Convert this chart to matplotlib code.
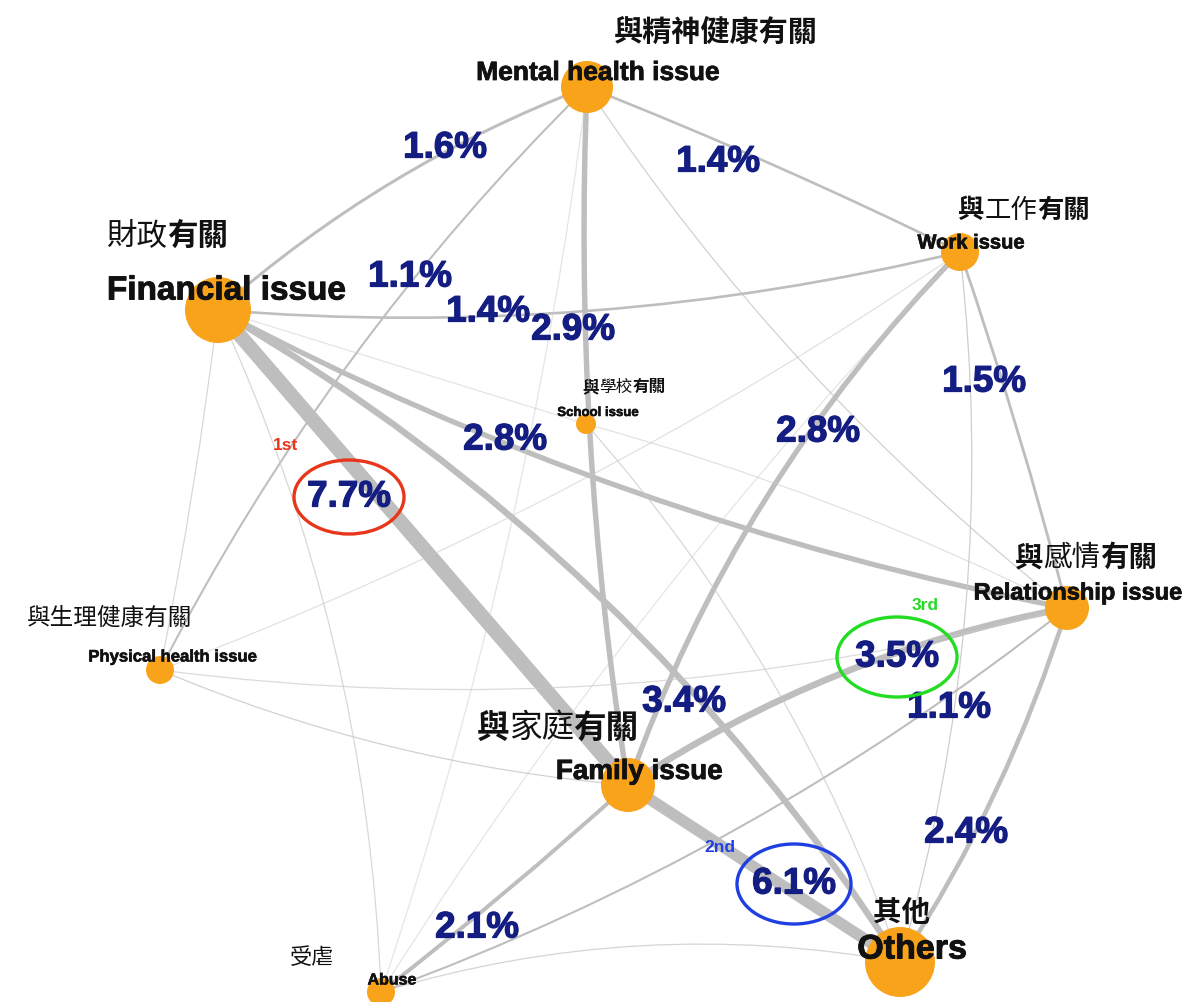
import numpy as np
import matplotlib
matplotlib.use("Agg")
import matplotlib.pyplot as plt
import matplotlib.patheffects as pe
from matplotlib.patches import Circle, Ellipse, PathPatch
from matplotlib.path import Path

# ---------------- data ----------------
nodes = ["Mental health issue", "Work issue", "Financial issue", "School issue",
         "Relationship issue", "Physical health issue", "Family issue", "Abuse", "Others"]
node_size = [26, 19, 33, 10, 22, 14, 27, 14, 35]          # relative node weight (radius px)

# edges: source, target, co-occurrence percentage
edge_src = ["Financial issue", "Mental health issue", "Mental health issue", "Mental health issue",
            "Mental health issue", "Financial issue", "Financial issue", "Financial issue",
            "Financial issue", "Work issue", "Work issue", "Work issue",
            "Relationship issue", "Relationship issue", "Family issue", "Family issue",
            "Financial issue", "Financial issue", "Physical health issue", "Physical health issue",
            "Physical health issue", "Abuse", "Abuse", "School issue",
            "School issue", "Financial issue", "Mental health issue", "Work issue"]
edge_dst = ["Mental health issue", "Work issue", "Family issue", "Physical health issue",
            "Relationship issue", "Work issue", "Relationship issue", "Family issue",
            "Others", "Family issue", "Relationship issue", "Others",
            "Family issue", "Others", "Others", "Abuse",
            "Physical health issue", "Abuse", "Family issue", "Relationship issue",
            "Work issue", "Others", "Relationship issue", "Others",
            "Relationship issue", "School issue", "Abuse", "Abuse"]
edge_pct = [1.6, 1.4, 2.9, 1.1,
            0.8, 1.4, 2.8, 7.7,
            3.4, 2.8, 1.5, 0.9,
            3.5, 2.4, 6.1, 2.1,
            0.6, 0.6, 0.8, 0.5,
            0.3, 0.7, 1.1, 0.6,
            0.3, 0.2, 0.2, 0.2]

cn_labels = {
    "Mental health issue": [("與精神健康有關", "bold")],
    "Work issue": [("與", "bold"), ("工作", "light"), ("有關", "bold")],
    "Financial issue": [("財政", "light"), ("有關", "bold")],
    "School issue": [("與", "bold"), ("學校", "light"), ("有關", "bold")],
    "Relationship issue": [("與", "bold"), ("感情", "light"), ("有關", "bold")],
    "Physical health issue": [("與生理健康有關", "normal")],
    "Family issue": [("與", "bold"), ("家庭", "light"), ("有關", "bold")],
    "Abuse": [("受虐", "light")],
    "Others": [("其他", "bold")],
}
rank_names = ["1st", "2nd", "3rd"]

# ---------------- layout / style ----------------
node_xy = {
    "Mental health issue": (587, 87), "Work issue": (960, 252), "Financial issue": (218, 310),
    "School issue": (586, 424), "Relationship issue": (1067, 608),
    "Physical health issue": (160, 670), "Family issue": (628, 785),
    "Abuse": (381, 992), "Others": (900, 962),
}
edge_curv = [0.09, 0.02, -0.05, -0.08,
             -0.08, -0.08, -0.075, 0.0,
             0.12, -0.11, 0.02, 0.1,
             -0.1, 0.07, 0.0, 0.02,
             0.02, 0.1, -0.08, -0.1,
             -0.06, 0.12, -0.08, 0.1,
             0.05, 0.0, 0.05, -0.05]
label_xy = [(445, 148), (718, 162), (573, 330), (410, 277),
            None, (488, 312), (505, 440), (349, 497),
            (684, 702), (818, 432), (984, 382), None,
            (897, 657), (966, 833), (794, 884), (477, 928),
            None, None, None, None,
            None, None, (949, 708), None,
            None, None, None, None]
en_style = {  # centre, fontsize
    "Mental health issue": ((598, 73), 19), "Work issue": ((971, 243), 14.5),
    "Financial issue": ((227, 291), 24), "School issue": ((598, 413), 9.5),
    "Relationship issue": ((1078, 593), 17), "Physical health issue": ((172, 657), 12),
    "Family issue": ((639, 772), 20), "Abuse": ((392, 980), 11.5),
    "Others": ((912, 950), 24.5),
}
cn_style = {
    "Mental health issue": ((716, 32), 21), "Work issue": ((1024, 210), 19),
    "Financial issue": ((167, 237), 22), "School issue": ((624, 387), 12),
    "Relationship issue": ((1086, 558), 20.5), "Physical health issue": ((110, 618), 17),
    "Family issue": ((558, 728), 23.5), "Abuse": ((312, 958), 16),
    "Others": ((901, 913), 20.5),
}
rank_color = ["#e8361c", "#1f3fe0", "#22dd22"]
rank_ell = [(110, 74), (114, 80), (120, 80)]
rank_txt_off = [(-63, -51), (-74, -37), (28, -52)]

W, H = 1185, 1002
NODE_C = "#F9A31A"
EDGE_C = "#bebebe"
NAVY = "#131d82"
LATIN = ["Liberation Sans", "DejaVu Sans"]
CJK = ["Noto Sans CJK TC", "DejaVu Sans"]


def thick(color, w):
    return [pe.withStroke(linewidth=w, foreground=color)]


fig = plt.figure(figsize=(W / 100, H / 100), dpi=100)
ax = fig.add_axes([0, 0, 1, 1])
ax.set_xlim(0, W)
ax.set_ylim(H, 0)
ax.axis("off")

# edges
for s, d, p, k in zip(edge_src, edge_dst, edge_pct, edge_curv):
    p0 = np.array(node_xy[s], float)
    p1 = np.array(node_xy[d], float)
    dv = p1 - p0
    L = np.hypot(*dv)
    n = np.array([dv[1], -dv[0]]) / L
    c = (p0 + p1) / 2 + k * L * n
    path = Path([p0, c, p1], [Path.MOVETO, Path.CURVE3, Path.CURVE3])
    if p >= 1.0:
        lw, col, a = 1.35 * p, EDGE_C, 1.0
    else:
        lw, col, a = 0.9, "#c8c8c8", 0.35 + 0.6 * p
    ax.add_patch(PathPatch(path, fill=False, lw=lw, edgecolor=col, alpha=a,
                           capstyle="butt", zorder=1))

# nodes
for name, r in zip(nodes, node_size):
    ax.add_patch(Circle(node_xy[name], r, facecolor=NODE_C, edgecolor="none", zorder=3))

# edge labels
for p, xy in zip(edge_pct, label_xy):
    if xy is None:
        continue
    ax.text(xy[0], xy[1], f"{p:.1f}%", fontsize=26.5, fontweight="bold", color=NAVY,
            family=LATIN, ha="center", va="center", zorder=5,
            path_effects=thick(NAVY, 0.9))

# top-3 highlight
order = np.argsort(edge_pct)[::-1][:3]
for rank, ei in enumerate(order):
    x, y = label_xy[ei]
    w, h = rank_ell[rank]
    ax.add_patch(Ellipse((x, y), w, h, fill=False, edgecolor=rank_color[rank], lw=2.4, zorder=6))
    ox, oy = rank_txt_off[rank]
    ax.text(x + ox, y + oy, rank_names[rank], fontsize=12.5, fontweight="bold",
            color=rank_color[rank], family=LATIN, ha="center", va="center", zorder=6)

# node labels
for name in nodes:
    (x, y), fs = en_style[name]
    ax.text(x, y, name, fontsize=fs, fontweight="bold", color="#111111", family=LATIN,
            ha="center", va="center", zorder=7,
            path_effects=thick("#111111", 0.2 + fs * 0.02))

renderer = fig.canvas.get_renderer()
for name in nodes:
    (x, y), fs = cn_style[name]
    parts = cn_labels[name]
    texts, widths = [], []
    for s, wt in parts:
        t = ax.text(0, y, s, fontsize=fs, fontweight=wt, color="#111111", family=CJK,
                    ha="left", va="center", zorder=7)
        widths.append(t.get_window_extent(renderer=renderer).width)
        texts.append(t)
    x0 = x - sum(widths) / 2
    for t, wd in zip(texts, widths):
        t.set_x(x0)
        x0 += wd

fig.savefig("out.png", dpi=100)
